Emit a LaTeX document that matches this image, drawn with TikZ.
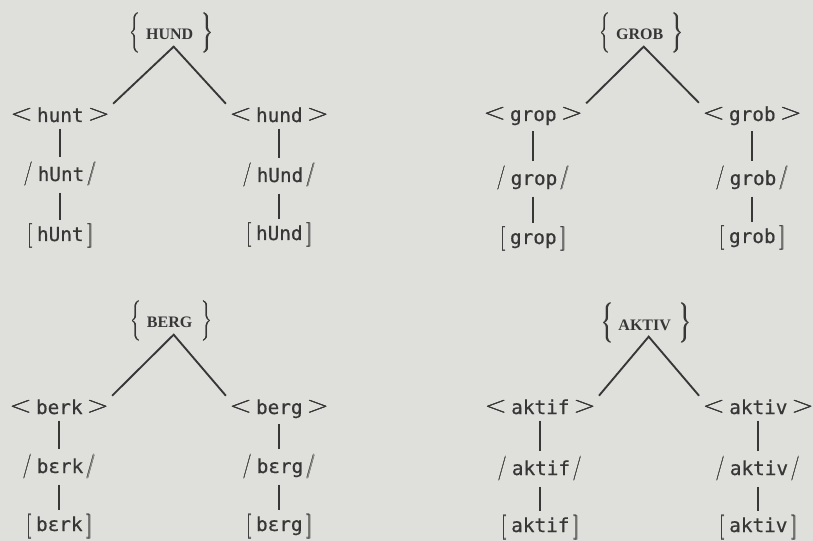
\documentclass[tikz,border=0pt]{standalone}
\usepackage{fontspec}
\usepackage{graphicx}
\newfontfamily\txtfont{DejaVu Sans Mono}[FakeBold=0.6]
\newfontfamily\capsfont{Liberation Serif}
\definecolor{paper}{RGB}{223,223,220}
\definecolor{ink}{RGB}{55,55,55}
\newcommand\heavy[1]{{\setbox0\hbox{#1}\rlap{\kern.45pt\copy0}\rlap{\kern.22pt\raise.3pt\copy0}\box0}}
\newcommand\dlm[1]{\heavy{\fontsize{10}{12}\selectfont$#1$}}
\newcommand\angl[1]{\heavy{\scalebox{1.25}[1]{\fontsize{18}{20}\selectfont$#1$}}}
\newcommand\lexeme[1]{\raisebox{2.75pt}{\dlm{\Bigg\{}}\hspace{4.5pt}{\capsfont\bfseries\fontsize{12}{14}\selectfont #1}\hspace{6.5pt}\raisebox{2.75pt}{\dlm{\Bigg\}}}}
\newcommand\grapheme[1]{\raisebox{1.1pt}{\angl{<}}\hspace{3.5pt}#1\hspace{3pt}\raisebox{1.1pt}{\angl{>}}}
\newcommand\phoneme[1]{\raisebox{2.4pt}{\scalebox{.75}[1]{\dlm{\Big/}}}\hspace{4pt}#1\hspace{2.5pt}\raisebox{2.4pt}{\scalebox{.75}[1]{\dlm{\Big/}}}}
\newcommand\phone[1]{\raisebox{0.9pt}{\dlm{\Big[}}\hspace{3.5pt}#1\hspace{3pt}\raisebox{0.9pt}{\dlm{\Big]}}}
\begin{document}
\begin{tikzpicture}[x=.75pt,y=-.75pt,line width=1.4pt,color=ink,
  every node/.style={inner sep=2pt,anchor=base,font=\txtfont\fontsize{14.5}{17}\selectfont}]
\useasboundingbox (0,0) rectangle (813,541);
\fill[paper] (0,0) rectangle (813,541);
\node (hund) at (171,40) {\lexeme{HUND}};
\node (a) at (60,122) {\grapheme{hunt}};
\node (a2) at (60,181) {\phoneme{hUnt}};
\node (a3) at (60,241) {\phone{hUnt}};
\node (b) at (279,122) {\grapheme{hund}};
\node (b2) at (279,182) {\phoneme{hUnd}};
\node (b3) at (279,240) {\phone{hUnd}};
\node (grob) at (641,40) {\lexeme{GROB}};
\node (c) at (533,121) {\grapheme{grop}};
\node (c2) at (533,185) {\phoneme{grop}};
\node (c3) at (533,244) {\phone{grop}};
\node (d) at (752,121) {\grapheme{grob}};
\node (d2) at (752,185) {\phoneme{grob}};
\node (d3) at (752,243) {\phone{grob}};
\node (berg) at (171,328) {\lexeme{BERG}};
\node (e) at (59,414) {\grapheme{berk}};
\node (e2) at (59,473) {\phoneme{bɛrk}};
\node (e3) at (59,531) {\phone{bɛrk}};
\node (f) at (279,414) {\grapheme{berg}};
\node (f2) at (279,473) {\phoneme{bɛrg}};
\node (f3) at (279,531) {\phone{bɛrg}};
\node (aktiv) at (646,330) {\lexeme{AKTIV}};
\node (g) at (540,414) {\grapheme{aktif}};
\node (g2) at (540,475) {\phoneme{aktif}};
\node (g3) at (540,532) {\phone{aktif}};
\node (h) at (758,414) {\grapheme{aktiv}};
\node (h2) at (758,475) {\phoneme{aktiv}};
\node (h3) at (758,532) {\phone{aktiv}};
\foreach \t/\l/\r in {hund/a/b,grob/c/d,berg/e/f,aktiv/g/h}{
  \draw (\l.north east)--([xshift=2pt,yshift=-5pt]\t.base)--(\r.north west);
}
\foreach \p in {a,b,c,d,e,f,g,h}{
  \draw[shorten <=2pt,shorten >=1pt] (\p)--(\p2);
  \draw[shorten <=2pt] (\p2)--(\p3);
}
\end{tikzpicture}
\end{document}
